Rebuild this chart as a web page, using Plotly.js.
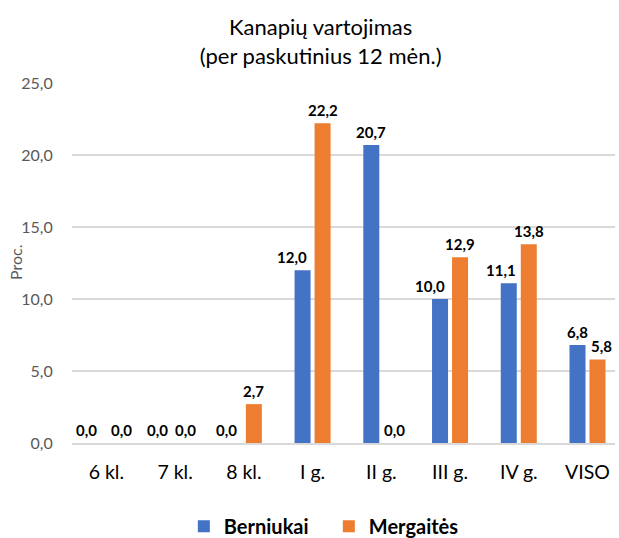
<!DOCTYPE html>
<html><head><meta charset="utf-8">
<script src="https://cdn.plot.ly/plotly-3.0.1.min.js"></script>
<style>html,body{margin:0;padding:0;background:#fff}</style>
</head><body>
<div id="chart" style="width:619px;height:538px"></div>
<script>
const categories = ["6 kl.", "7 kl.", "8 kl.", "I g.", "II g.", "III g.", "IV g.", "VISO"];
const berniukai = [0.0, 0.0, 0.0, 12.0, 20.7, 10.0, 11.1, 6.8];
const mergaites = [0.0, 0.0, 2.7, 22.2, 0.0, 12.9, 13.8, 5.8];
const yTicks = [0, 5, 10, 15, 20, 25];

const fontFam = "Lato, 'Open Sans', sans-serif";
const fmt = v => v.toFixed(1).replace(".", ",");

// label nudges (px) imitating the reference's overlap avoidance
const nudgeB = [-9.5, -8, -7.5, -11, 0, -10, -8, 0];
const nudgeM = [5.5, 0, 0, 0, 3, 0, 0, 3.5];
const halfSlot = 10;

const data = [
  {type: "bar", name: "Berniukai", x: categories, y: berniukai, marker: {color: "#4472C4"}, hoverinfo: "skip"},
  {type: "bar", name: "Mergaitės", x: categories, y: mergaites, marker: {color: "#ED7D31"}, hoverinfo: "skip"}
];

const annotations = [];
categories.forEach((c, i) => {
  [[berniukai, -halfSlot + nudgeB[i]], [mergaites, halfSlot + nudgeM[i]]].forEach(([arr, xs]) => {
    annotations.push({
      x: c, y: arr[i], xref: "x", yref: "y", text: fmt(arr[i]), showarrow: false,
      xanchor: "center", yanchor: "bottom", xshift: xs, yshift: 2,
      font: {family: fontFam, size: 15, color: "#000", weight: "bold"}
    });
  });
});
// y-axis title
annotations.push({
  text: "Proc.", xref: "paper", yref: "paper", x: 0, y: 0.5, xanchor: "center", yanchor: "middle",
  xshift: -57, textangle: -90, showarrow: false,
  font: {family: fontFam, size: 16, color: "#595959"}
});

const layout = {
  width: 619, height: 538,
  margin: {l: 72, r: 4, t: 83, b: 95},
  separators: ", ",
  paper_bgcolor: "#fff", plot_bgcolor: "#fff",
  font: {family: fontFam, color: "#595959"},
  title: {text: "Kanapių vartojimas<br>(per paskutinius 12 mėn.)", x: 0.518, xanchor: "center", y: 0.935, yanchor: "top",
          font: {family: fontFam, size: 22, color: "#000"}},
  barmode: "group", bargap: 0.418, bargroupgap: 0.2,
  xaxis: {range: [-0.5, 7.4], tickfont: {family: fontFam, size: 19.5, color: "#000"}, showline: true, linecolor: "#d9d9d9", linewidth: 1.5,
          ticks: "", showgrid: false, ticklabelstandoff: 11},
  yaxis: {range: [0, 25], tickvals: yTicks, tickformat: ".1f", tickfont: {family: fontFam, size: 16, color: "#595959"},
          showgrid: true, gridcolor: "#d9d9d9", gridwidth: 1.2, zeroline: false,
          ticks: "outside", ticklen: 15, tickcolor: "rgba(0,0,0,0)"},
  legend: {orientation: "h", x: 0.473, xanchor: "center", yref: "container", y: 0.058, yanchor: "top",
           entrywidth: 100, entrywidthmode: "pixels",
           font: {family: fontFam, size: 20, color: "#000", weight: "bold"}, traceorder: "normal"},
  showlegend: true,
  annotations: annotations
};
Plotly.newPlot("chart", data, layout, {displayModeBar: false, staticPlot: true});
</script>
</body></html>
